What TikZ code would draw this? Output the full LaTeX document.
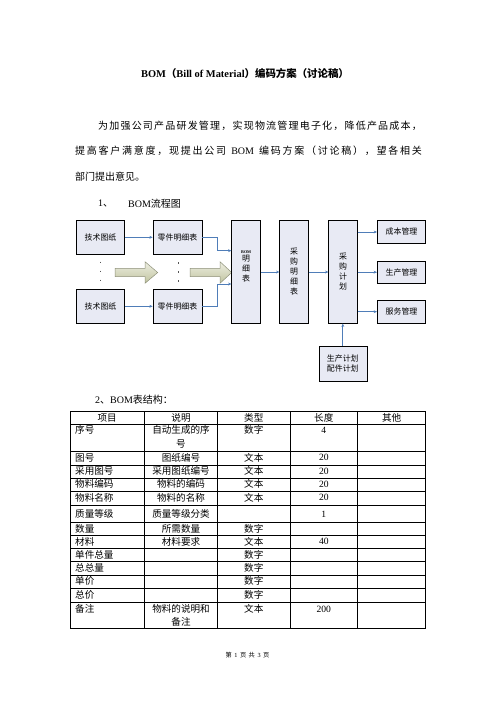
\documentclass[tikz,border=0pt]{standalone}
\usepackage{fontspec}
\setmainfont{Liberation Serif}
\newfontfamily\cjk{Noto Sans CJK SC}
\usetikzlibrary{arrows.meta,calc}
\newdimen\pxu \pxu=1.2pt
\def\endspr{ENDSPR}
\def\spr#1{\ifx#1\endspr\else#1\hskip 0pt plus 1fil\expandafter\spr\fi}
\definecolor{boxfill}{HTML}{E8EAF4}
\definecolor{linkblue}{HTML}{4F7DB8}
\definecolor{arrtop}{HTML}{EEEFE3}
\definecolor{arrbot}{HTML}{C0C39E}
\definecolor{arredge}{HTML}{8E917A}
\definecolor{dotcol}{HTML}{555555}
\tikzset{
  box/.style={draw=black, line width=0.7pt, fill=boxfill, inner sep=0pt, align=center,
    font=\cjk\fontsize{9.5}{12}\selectfont},
  wh/.style 2 args={minimum width=#1*1.2pt, minimum height=#2*1.2pt},
  conn/.style={draw=linkblue, line width=0.75pt, -{Stealth[length=4pt,width=3.4pt]}},
  bigarr/.style={draw=arredge, line width=0.6pt, top color=arrtop, bottom color=arrbot},
  dotline/.style={draw=dotcol, line width=0.8pt, dash pattern=on 1.8pt off 9pt},
  body/.style={inner sep=0pt, font=\cjk\fontsize{12}{14}\selectfont},
  tl/.style={inner sep=0pt, anchor=west, font=\cjk\fontsize{11.5}{14}\selectfont},
  tc/.style={inner sep=0pt, font=\cjk\fontsize{11.5}{14}\selectfont},
  td/.style={inner sep=0pt, font=\rmfamily\fontsize{11.5}{14}\selectfont},
  grid/.style={draw=black, line width=0.8pt}
}
\begin{document}
\begin{tikzpicture}[x=1.2pt,y=-1.2pt]
\useasboundingbox (0,0) rectangle (496,702);

% title and text
\node[inner sep=0pt, font=\bfseries\fontsize{12.5}{15}\selectfont] (title) at (245,73.3)
  {BOM{\cjk （}Bill of Material{\cjk ）编码方案（讨论稿）}};
\node[body, anchor=west] (l1) at (98,126)
  {\hbox to 323.7\pxu{\spr 为加强公司产品研发管理，实现物流管理电子化，降低产品成本，\endspr\unskip}};
\node[body, anchor=west] (l2) at (75,151)
  {\hbox to 346.7\pxu{\spr 提高客户满意度，现提出公司\endspr\hskip 4pt{\rmfamily BOM}\hskip 4pt plus 1fil\spr 编码方案（讨论稿），望各相关\endspr\unskip}};
\node[body, anchor=west] (l3) at (75,176.7) {部门提出意见。};
\node[body, anchor=west] (h1a) at (98,203.3) {{\rmfamily 1}、};
\node[body, anchor=west] (h1b) at (128,203.3) {{\rmfamily BOM}流程图};
\node[body, anchor=west] (h2) at (95,400) {{\rmfamily 2}、{\rmfamily BOM}表结构：};

% big arrows
\draw[bigarr] (115,268.3) -- (145,268.3) -- (145,261.7) -- (157.7,272.5) -- (145,283.3) -- (145,276.7) -- (115,276.7) -- cycle;
\draw[bigarr] (190,268.3) -- (220,268.3) -- (220,261.7) -- (231.7,272.5) -- (220,283.3) -- (220,276.7) -- (190,276.7) -- cycle;

% dotted ellipses
\draw[dotline] (100.7,261.5) -- (100.7,283);
\draw[dotline] (178,262) -- (178,283);

% flow boxes
\node[box, wh={47.6}{33.3}] (t1) at (100.5,237.3) {技术图纸};
\node[box, wh={49}{33.3}] (p1) at (177.5,237.3) {零件明细表};
\node[box, wh={47.6}{34}] (t2) at (100.5,306.3) {技术图纸};
\node[box, wh={49}{34}] (p2) at (177.5,306.3) {零件明细表};
\node[box, wh={29}{102.6}] (bom) at (246.2,272)
  {{\rmfamily\bfseries\fontsize{5}{6}\selectfont BOM}\\[-2.5pt]明\\细\\表\\[3pt]};
\node[box, wh={28.6}{102.6}] (cg) at (294,272) {采\\购\\明\\细\\表};
\node[box, wh={28.6}{102.6}] (jh) at (343,272) {采\\购\\计\\划};
\node[box, wh={48.4}{22.6}] (cb) at (401.5,232) {成本管理};
\node[box, wh={48.4}{22.3}] (sc) at (401.5,272.2) {生产管理};
\node[box, wh={48.4}{23.3}] (fw) at (401.5,311.7) {服务管理};
\node[box, wh={48}{35.7}] (sp) at (342.8,363.8) {生产计划\\配件计划};

% connectors
\draw[conn] (t1) -- (p1);
\draw[conn] (t2) -- (p2);
\draw[conn] (p1.east) -- ++(14.7,0) |- ($(bom.west)+(0,-21.3)$);
\draw[conn] (p2.east) -- ++(14.7,0) |- ($(bom.west)+(0,12)$);
\draw[conn] (bom) -- (cg);
\draw[conn] (cg) -- (jh);
\draw[conn] (jh.east |- cb.west) -- (cb.west);
\draw[conn] (jh.east |- sc.west) -- (sc.west);
\draw[conn] (jh.east |- fw.west) -- (fw.west);
\draw[conn] (sp.north) -- (sp.north |- jh.south);

% table grid
\foreach \yy in {411,424.3,451,465,478.3,491.7,505.7,522.3,535,548.3,561.7,575,588.3,602.3,628.3}
  \draw[grid] (70,\yy) -- (425.7,\yy);
\foreach \xx in {70,144.3,217.7,290,357.7,425.7}
  \draw[grid] (\xx,411) -- (\xx,628.3);

% header
\node[tc] (hA) at (107.2,417.7) {项目};
\node[tc] (hB) at (181,417.7) {说明};
\node[tc] (hC) at (253.8,417.7) {类型};
\node[tc] (hD) at (323.8,417.7) {长度};
\node[tc] (hE) at (391.7,417.7) {其他};

% rows
\foreach \yy/\a/\b/\c/\d [count=\i] in {
  430/序号/自动生成的序/数字/4,
  457.7/图号/图纸编号/文本/20,
  471/采用图号/采用图纸编号/文本/20,
  484.3/物料编码/物料的编码/文本/20,
  497.5/物料名称/物料的名称/文本/20,
  514/质量等级/质量等级分类/{}/1,
  529/数量/所需数量/数字/{},
  541.7/材料/材料要求/文本/40,
  555/单件总量/{}/数字/{},
  568.3/总总量/{}/数字/{},
  581.3/单价/{}/数字/{},
  594.5/总价/{}/数字/{},
  609/备注/物料的说明和/文本/200}
{
  \node[tl] (r\i a) at (75,\yy) {\a};
  \node[tc] (r\i b) at (181,\yy) {\b};
  \node[tc] (r\i c) at (253.8,\yy) {\c};
  \node[td] (r\i d) at (323.8,\yy) {\d};
}
\node[tc] (r1b2) at (181,444.3) {号};
\node[tc] (r13b2) at (181,622.3) {备注};

% footer
\node[inner sep=0pt, font=\cjk\fontsize{7.5}{9}\selectfont] (foot) at (247.5,655)
  {第\hspace{3pt}{\rmfamily 1}\hspace{3pt}页\hspace{3pt}共\hspace{3pt}{\rmfamily 3}\hspace{3pt}页};
\end{tikzpicture}
\end{document}
